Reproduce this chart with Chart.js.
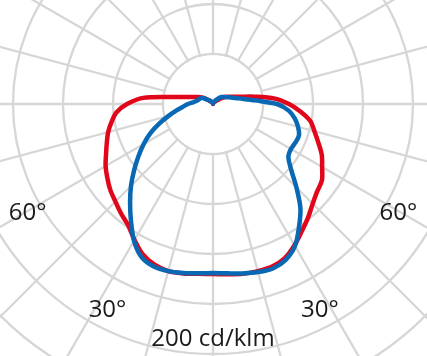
<!DOCTYPE html>
<html><head><meta charset="utf-8">
<script src="https://cdn.jsdelivr.net/npm/chart.js@4/dist/chart.umd.min.js"></script>
<style>
html,body{margin:0;padding:0;width:427px;height:356px;overflow:hidden;background:#fff;}
#c{position:absolute;left:-137px;top:-246px;}
</style></head><body>
<canvas id="c" width="700" height="700"></canvas>
<script>
// Polar angles (degrees from nadir, clockwise on screen: 0 = down, 90 = left, 180 = up, 270 = right)
const angles = [0,5,10,15,20,25,30,35,40,45,50,55,60,65,70,75,80,85,90,95,100,105,110,115,120,125,130,135,140,145,150,155,160,165,170,175,
                180,185,190,195,200,205,210,215,220,225,230,235,240,245,250,255,260,265,270,275,280,285,290,295,300,305,310,315,320,325,330,335,340,345,350,355];

// Luminous intensity, cd/klm (red curve)
const redValues = [136,136.4,137.6,138.4,136.8,132.8,125.6,118.4,114.4,110.4,107.2,103.2,99.2,94.4,90.4,86.8,82.4,77.6,68.8,56,32,21.6,16.4,13.2,10.4,8,4.8,3.2,2.4,2,1.6,1.2,0.8,0.8,0.8,0.4,
                   0,
                   0.4,0.8,0.8,0.8,1.2,1.6,2,2.4,3.2,4.8,8,11.2,13.6,16.8,22.4,33.6,49.6,60.8,70.4,79.2,84,89.6,96,100.8,106.4,108.8,112.8,118.4,124,130.4,136,138.4,138.4,138,136.8];

// Luminous intensity, cd/klm (blue curve)
const blueValues = [135.2,136,137.2,138.4,138.4,135.2,126.4,114.4,103.2,92.8,82.4,72.8,64,55.2,45.6,36.8,29.6,24,20,16,13.6,12.4,11.6,11.2,9.6,6.4,4.8,4,3.2,2.4,2,1.6,1.2,1,0.8,0.4,
                    0.4,
                    0.4,0.8,1.2,1.6,2,2.4,3.6,4.8,6.8,8.8,9.6,11.2,12.8,15.2,18.4,24,33.6,51.2,60.8,66.4,70.4,73.2,72.8,72,73.6,81.6,94.4,108.8,120,131.2,137.6,140,139.2,137.6,136];

// Scale: rings every 40 cd/klm
const ringStep = 40;
const scaleMax = 280;

// Text labels: text, angle (deg from nadir, negative = right side), radius in cd/klm
const labelTexts  = ['60°', '60°', '30°', '30°', '200 cd/klm'];
const labelAngles = [60, -60, 27.3, -27.6, 0];
const labelRadii  = [171.2, 171.2, 184, 184.5, 186.8];

const innerDisk = {
  id: 'innerDisk',
  beforeDatasetsDraw(chart) {
    const s = chart.scales.r;
    const ctx = chart.ctx;
    ctx.save();
    ctx.beginPath();
    ctx.arc(s.xCenter, s.yCenter, s.getDistanceFromCenterForValue(ringStep) - 1.3, 0, Math.PI * 2);
    ctx.fillStyle = '#fff';
    ctx.fill();
    ctx.restore();
  }
};

const textLabels = {
  id: 'textLabels',
  afterDatasetsDraw(chart) {
    const s = chart.scales.r;
    const ctx = chart.ctx;
    ctx.save();
    ctx.font = '24px "Open Sans"';
    ctx.fillStyle = '#1a1a1a';
    ctx.textAlign = 'center';
    ctx.textBaseline = 'middle';
    labelTexts.forEach((t, i) => {
      const a = labelAngles[i] * Math.PI / 180;
      const d = s.getDistanceFromCenterForValue(labelRadii[i]);
      const x = s.xCenter - Math.sin(a) * d;
      const y = s.yCenter + Math.cos(a) * d + 2;
      ctx.fillText(t, x, y);
    });
    ctx.restore();
  }
};

new Chart(document.getElementById('c'), {
  type: 'radar',
  data: {
    labels: angles,
    datasets: [
      { data: blueValues, borderColor: '#0868b3', borderWidth: 4.5, pointRadius: 0, fill: false, tension: 0.3 },
      { data: redValues, borderColor: '#e2061b', borderWidth: 4.5, pointRadius: 0, fill: false, tension: 0.3 }
    ]
  },
  options: {
    responsive: false,
    animation: false,
    plugins: { legend: { display: false }, tooltip: { enabled: false } },
    layout: { padding: 0 },
    scales: {
      r: {
        startAngle: 180,
        min: 0,
        max: scaleMax,
        ticks: { display: false, stepSize: ringStep },
        pointLabels: { display: false },
        grid: { circular: true, color: '#d6d6d6', lineWidth: 2.3 },
        angleLines: {
          display: true,
          color: '#d6d6d6',
          lineWidth: (c) => (c.index % 3 === 0 ? 2.3 : 0)
        }
      }
    }
  },
  plugins: [innerDisk, textLabels]
});
</script>
</body></html>
